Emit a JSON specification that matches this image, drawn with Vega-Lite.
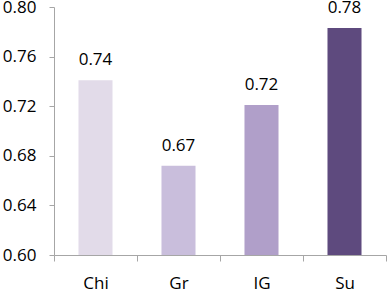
{
  "$schema": "https://vega.github.io/schema/vega-lite/v6.json",
  "width": 332,
  "height": 248,
  "autosize": "none",
  "padding": {"left": 54, "top": 7, "right": 2, "bottom": 34},
  "background": "white",
  "config": {"view": {"stroke": null}, "font": "Open Sans"},
  "data": {"values": [
    {"cat": "Chi", "value": 0.741, "label": "0.74"},
    {"cat": "Gr", "value": 0.672, "label": "0.67"},
    {"cat": "IG", "value": 0.721, "label": "0.72"},
    {"cat": "Su", "value": 0.783, "label": "0.78"}
  ]},
  "encoding": {
    "x": {"field": "cat", "type": "nominal", "sort": null,
      "scale": {"paddingInner": 0, "paddingOuter": 0},
      "axis": {"title": null, "labelAngle": 0, "labelFontSize": 17, "labelColor": "#000000", "labelFont": "Open Sans",
        "domainColor": "#a6a6a6", "tickColor": "#a6a6a6", "tickSize": 6, "tickBand": "extent", "labelPadding": 14}},
    "y": {"field": "value", "type": "quantitative",
      "scale": {"domain": [0.6, 0.8], "zero": false, "nice": false},
      "axis": {"title": null, "values": [0.6, 0.64, 0.68, 0.72, 0.76, 0.8], "format": ".2f", "grid": false,
        "labelFontSize": 17, "labelColor": "#000000", "labelFont": "Open Sans",
        "domainColor": "#a6a6a6", "tickColor": "#a6a6a6", "tickSize": 5, "labelPadding": 13}}
  },
  "layer": [
    {"mark": {"type": "bar", "width": {"band": 0.41}, "clip": true},
      "encoding": {"color": {"field": "cat", "type": "nominal", "legend": null,
        "scale": {"domain": ["Chi", "Gr", "IG", "Su"], "range": ["#e2dbe9", "#c9bedc", "#b09fc9", "#5e4a7e"]}}}},
    {"mark": {"type": "text", "baseline": "alphabetic", "dy": -15, "fontSize": 17, "color": "#000000", "font": "Open Sans"},
      "encoding": {"text": {"field": "label"}}}
  ]
}
